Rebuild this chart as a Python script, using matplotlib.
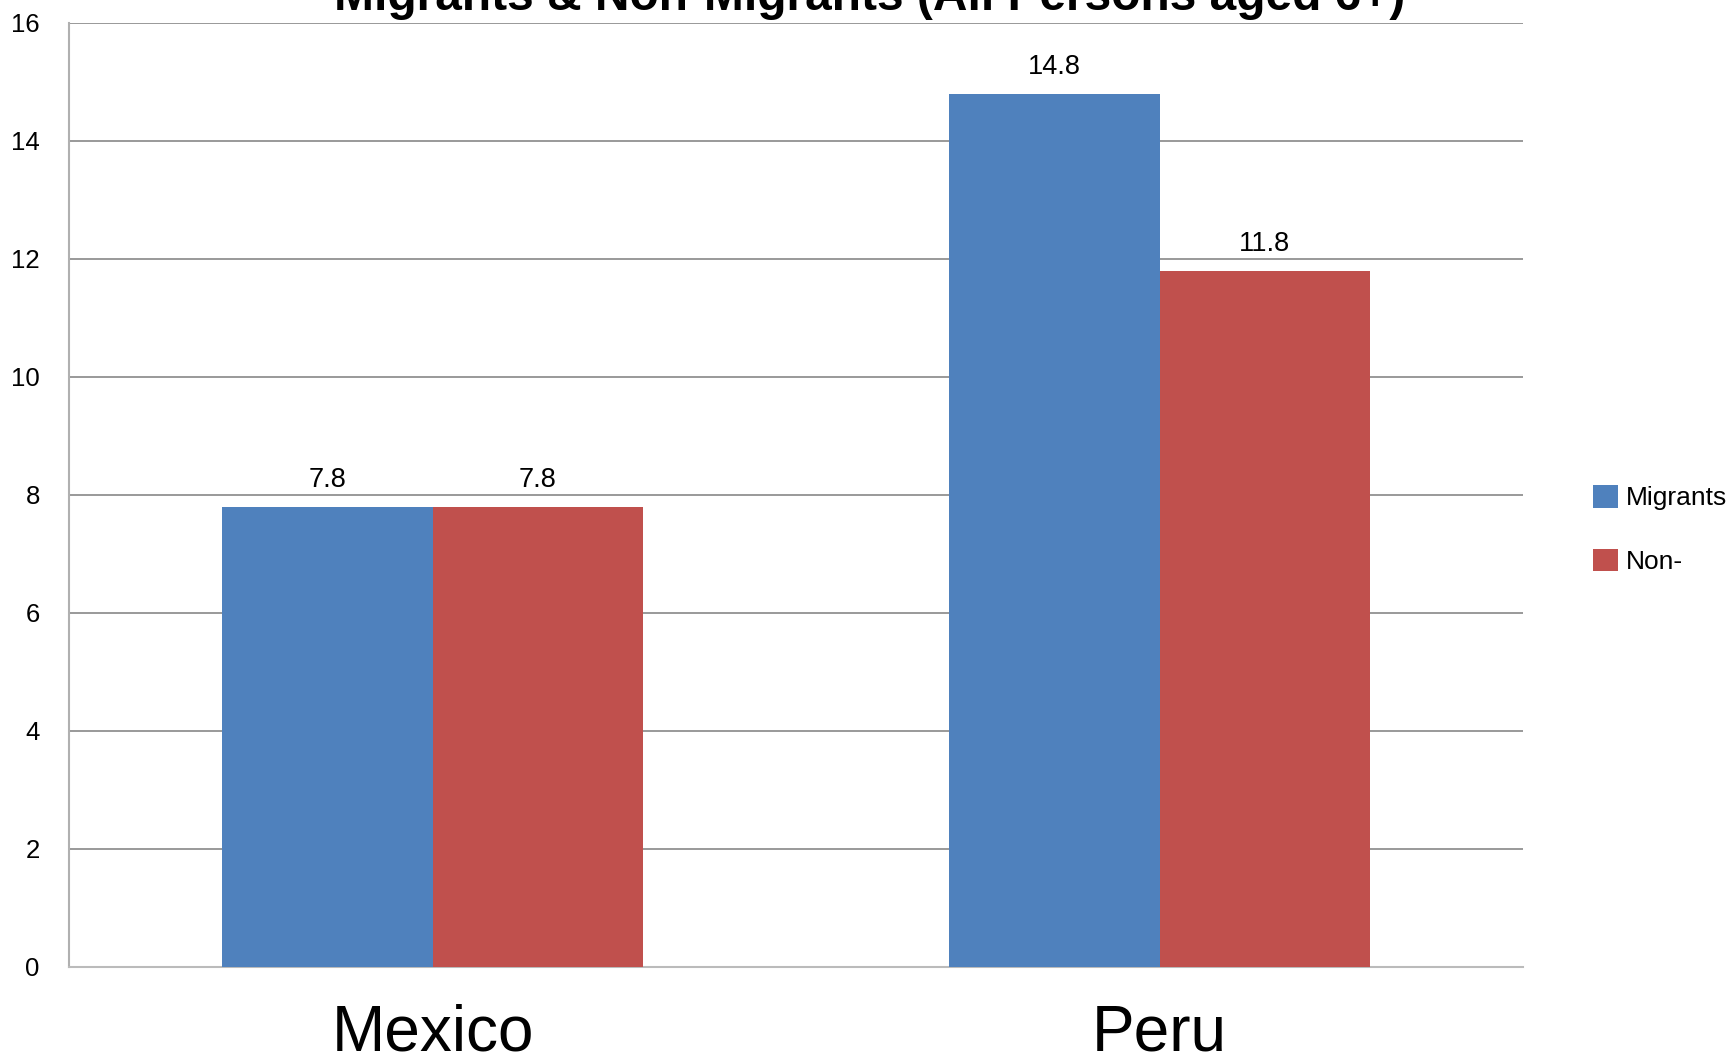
import matplotlib.pyplot as plt
import numpy as np

plt.rcParams["font.family"] = ["Liberation Sans", "DejaVu Sans"]

countries = ["Mexico", "Peru"]
series = ["Migrants", "Non-"]
migrants = [7.8, 14.8]
non_migrants = [7.8, 11.8]
yticks = [0, 2, 4, 6, 8, 10, 12, 14, 16]

COLORS = ["#4F81BD", "#C0504D"]
bar_width = 0.29
positions = np.arange(len(countries)) + 0.5

fig = plt.figure(figsize=(17.28, 10.59), dpi=100)
ax = fig.add_axes([69 / 1728, 1 - 967 / 1059, (1523 - 69) / 1728, (967 - 23) / 1059])

bars = []
for i, values in enumerate([migrants, non_migrants]):
    offset = (i - 0.5) * bar_width
    b = ax.bar(positions + offset, values, bar_width, color=COLORS[i],
               label=series[i], zorder=3)
    ax.bar_label(b, fmt="%.1f", padding=10, fontsize=19.5)
    bars.append(b)

ax.set_xlim(0, 2)
ax.set_ylim(0, 16)
ax.set_yticks(yticks)
ax.set_xticks(positions)
ax.set_xticklabels(countries, fontsize=46)
ax.tick_params(axis="x", length=0, pad=26)
ax.tick_params(axis="y", length=0, pad=21, labelsize=18.5)
ax.yaxis.grid(True, color="#888888", linewidth=1.2, zorder=0)

for side in ("top", "right"):
    ax.spines[side].set_visible(False)
ax.spines["left"].set_color("#b0b0b0")
ax.spines["left"].set_linewidth(1.5)
ax.spines["bottom"].set_color("#bbbbbb")
ax.spines["bottom"].set_linewidth(1.5)

fig.text(870 / 1728, 1 - 10 / 1059, "Migrants & Non-Migrants (All Persons aged 6+)",
         ha="center", va="baseline", fontsize=34.5, fontweight="bold")

fig.legend(handles=bars, labels=series, loc="upper left",
           bbox_to_anchor=(1593 / 1728, 1 - 485 / 1059), frameon=False,
           fontsize=19, handlelength=0.95, handleheight=0.95, handletextpad=0.3,
           labelspacing=1.45, borderpad=0, borderaxespad=0)

fig.savefig("out.png", dpi=100)
